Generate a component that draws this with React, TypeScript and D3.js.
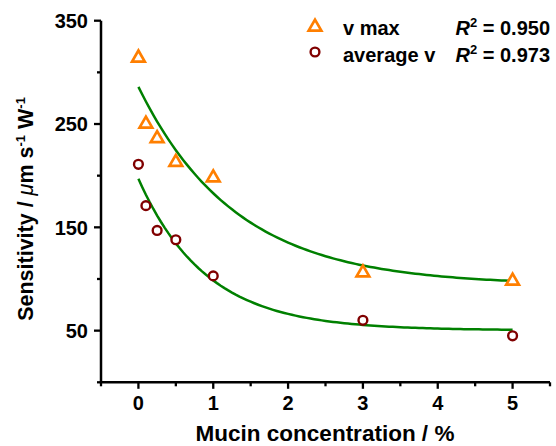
import React from "react";
import * as d3 from "d3";

const concentrations = [0, 0.1, 0.25, 0.5, 1, 3, 5];
const vMax = [315, 251, 237, 214, 199, 107, 99];
const vAvg = [211, 171, 147, 138, 103, 60, 45];
const xTicks = [0, 1, 2, 3, 4, 5];
const xMinorTicks = [-0.5, 0.5, 1.5, 2.5, 3.5, 4.5, 5.5];
const yTicks = [50, 150, 250, 350];
const yMinorTicks = [0, 100, 200, 300];
// exponential decay fit parameters: y = y0 + A * exp(-x / t)
const fitMax = { y0: 94, A: 192, t: 1.3 };
const fitAvg = { y0: 50.3, A: 146.7, t: 0.9 };
const legendLabels = ["v max", "average v"];
const r2Values = ["0.950", "0.973"];

const W = 556;
const H = 446;
const FONT = "'Liberation Sans', Arial, sans-serif";

export default function App() {
  const x = d3.scaleLinear().domain([-0.5, 5.5]).range([101, 550]);
  const y = d3.scaleLinear().domain([0, 350]).range([382.3, 20.7]);

  const fitPts = (p: { y0: number; A: number; t: number }) =>
    d3.range(0, 5.0001, 0.05).map((v) => [v, p.y0 + p.A * Math.exp(-v / p.t)] as [number, number]);
  const line = d3
    .line<[number, number]>()
    .x((d) => x(d[0]))
    .y((d) => y(d[1]));

  const tri = d3.symbol().type(d3.symbolTriangle).size(70)();
  const orange = "#FF7F00";
  const dred = "#800000";
  const green = "#008000";
  const x0 = x(-0.5);
  const yb = y(0);

  return (
    <svg
      width={W}
      height={H}
      style={{ position: "absolute", left: 0, top: 0, background: "#fff" }}
      fontFamily={FONT}
    >
      {/* fit curves */}
      <path d={line(fitPts(fitMax)) || ""} fill="none" stroke={green} strokeWidth={2.5} />
      <path d={line(fitPts(fitAvg)) || ""} fill="none" stroke={green} strokeWidth={2.5} />

      {/* markers */}
      {concentrations.map((c, i) => (
        <path
          key={"t" + i}
          d={tri || ""}
          transform={`translate(${x(c)},${y(vMax[i]) + 1})`}
          fill="#fff"
          stroke={orange}
          strokeWidth={2.7}
        />
      ))}
      {concentrations.map((c, i) => (
        <circle
          key={"c" + i}
          cx={x(c)}
          cy={y(vAvg[i])}
          r={4.4}
          fill="#fff"
          stroke={dred}
          strokeWidth={2.4}
        />
      ))}

      {/* axes */}
      <line x1={x0} x2={x0} y1={y(350)} y2={yb} stroke="#000" strokeWidth={2.5} />
      <line x1={x0 - 1.25} x2={x(5.5)} y1={yb} y2={yb} stroke="#000" strokeWidth={2.5} />
      {yTicks.map((t) => (
        <g key={"yt" + t}>
          <line x1={x0 - 7} x2={x0} y1={y(t)} y2={y(t)} stroke="#000" strokeWidth={2.3} />
          <text
            x={88}
            y={y(t)}
            dy="0.36em"
            textAnchor="end"
            fontSize={20}
            fontWeight="bold"
          >
            {t}
          </text>
        </g>
      ))}
      {yMinorTicks.map((t) => (
        <line key={"ym" + t} x1={x0 - 4} x2={x0} y1={y(t)} y2={y(t)} stroke="#000" strokeWidth={2.3} />
      ))}
      {xTicks.map((t) => (
        <g key={"xt" + t}>
          <line x1={x(t)} x2={x(t)} y1={yb} y2={yb + 6.5} stroke="#000" strokeWidth={2.3} />
          <text x={x(t)} y={409.5} textAnchor="middle" fontSize={20} fontWeight="bold">
            {t}
          </text>
        </g>
      ))}
      {xMinorTicks.map((t) => (
        <line key={"xm" + t} x1={x(t)} x2={x(t)} y1={yb} y2={yb + 4} stroke="#000" strokeWidth={2.3} />
      ))}

      {/* axis titles */}
      <text x={325} y={441} textAnchor="middle" fontSize={22.5} fontWeight="bold">
        Mucin concentration / %
      </text>
      <text
        transform="translate(33,209) rotate(-90)"
        textAnchor="middle"
        fontSize={21.5}
        fontWeight="bold"
      >
        Sensitivity /{" "}
        <tspan fontStyle="italic" fontWeight="normal">μ</tspan>
        m s
        <tspan fontSize={13} dy={-8}>-1</tspan>
        <tspan dy={8}> W</tspan>
        <tspan fontSize={13} dy={-8}>-1</tspan>
      </text>

      {/* legend */}
      <path d={tri || ""} transform={`translate(315,27)`} fill="#fff" stroke={orange} strokeWidth={2.7} />
      <circle cx={315} cy={52} r={4.4} fill="#fff" stroke={dred} strokeWidth={2.4} />
      {legendLabels.map((l, i) => (
        <text key={"ll" + i} x={343} y={35 + i * 26.5} fontSize={20} fontWeight="bold">
          {l}
        </text>
      ))}
      {r2Values.map((v, i) => (
        <text key={"r2" + i} x={550} y={35 + i * 26.5} textAnchor="end" fontSize={20} fontWeight="bold">
          <tspan fontStyle="italic">R</tspan>
          <tspan fontSize={13} dy={-8}>2</tspan>
          <tspan dy={8}>{" = " + v}</tspan>
        </text>
      ))}
    </svg>
  );
}
